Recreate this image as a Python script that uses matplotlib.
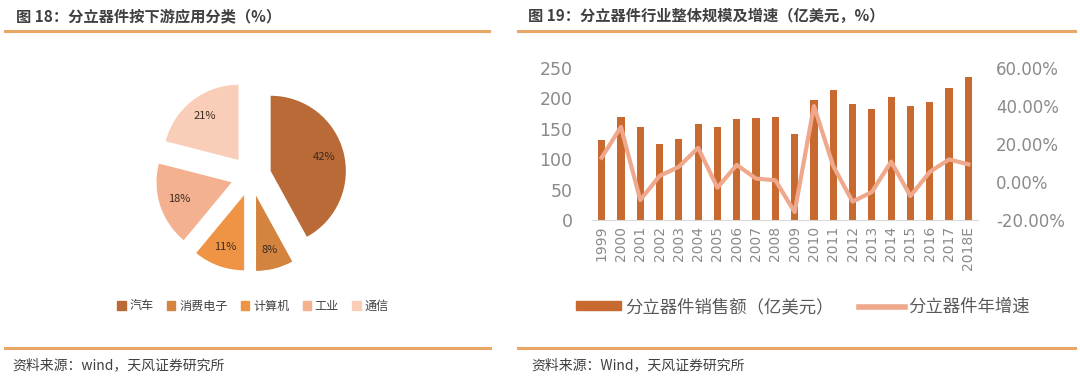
import matplotlib
matplotlib.use("Agg")
import matplotlib.pyplot as plt
from matplotlib.patches import Patch
from matplotlib.lines import Line2D
from matplotlib.ticker import FuncFormatter

plt.rcParams['font.family'] = ['Noto Sans CJK SC', 'DejaVu Sans']

# left: downstream application share
pie_labels = ["汽车", "消费电子", "计算机", "工业", "通信"]
pie_values = [42, 8, 11, 18, 21]
pie_colors = ["#B96A36", "#D4843F", "#EF9445", "#F4B18F", "#F9CDB7"]

# right: market size and growth
years = ["1999", "2000", "2001", "2002", "2003", "2004", "2005", "2006", "2007",
         "2008", "2009", "2010", "2011", "2012", "2013", "2014", "2015", "2016",
         "2017", "2018E"]
sales = [131, 169, 153, 125, 133, 158, 153, 166, 168, 170, 142, 198, 214, 191,
         182, 202, 187, 194, 217, 236]
growth = [12.8, 29.0, -9.5, 3.2, 8.0, 18.0, -3.0, 9.0, 1.8, 0.9, -15.8, 40.0,
          8.4, -10.3, -5.3, 10.7, -7.4, 5.3, 11.9, 9.3]

W, H = 1080, 376
BAR_C = "#C8692F"
LINE_C = "#F0A88C"
RULE_C = "#E8A766"
TXT_C = "#404040"
TICK_C = "#8a8a8a"
NUM_FONT = ["DejaVu Sans"]


def box(x0, y0, x1, y1):
    # pixel box (top-left origin) -> figure rect
    return [x0 / W, 1 - y1 / H, (x1 - x0) / W, (y1 - y0) / H]


fig = plt.figure(figsize=(W / 100, H / 100), dpi=100)

# headers, rules and sources
fig.text(16 / W, 1 - 16 / H, "图 18：分立器件按下游应用分类（%）", fontsize=11,
         fontweight="bold", color=TXT_C, va="center")
fig.text(528 / W, 1 - 16 / H, "图 19：分立器件行业整体规模及增速（亿美元，%）", fontsize=11,
         fontweight="bold", color=TXT_C, va="center")
for x0, x1, y in [(5, 489, 31), (518, 1075, 31), (5, 490, 348), (518, 1075, 348)]:
    fig.add_artist(Line2D([x0 / W, x1 / W], [1 - y / H] * 2, color=RULE_C, lw=2.2))
fig.text(12 / W, 1 - 365 / H, "资料来源：wind，天风证券研究所", fontsize=10,
         color=TXT_C, va="center")
fig.text(531 / W, 1 - 365 / H, "资料来源：Wind，天风证券研究所", fontsize=10,
         color=TXT_C, va="center")

# pie
ax1 = fig.add_axes(box(151, 76, 351, 276))
ax1.pie(pie_values, colors=pie_colors, startangle=90, counterclock=False,
        explode=[0.27] * 5, radius=1.0, autopct="%d%%", pctdistance=0.74,
        textprops=dict(fontsize=8, color="#3a2a20"))
ax1.set_xlim(-1.33, 1.33)
ax1.set_ylim(-1.33, 1.33)
ax1.set_aspect("equal")
ax1.axis("off")
fig.legend([Patch(color=c) for c in pie_colors], pie_labels, ncol=5,
           loc="center", bbox_to_anchor=(253 / W, 1 - 306 / H), frameon=False,
           fontsize=8.7, handlelength=0.7, handleheight=0.7, handletextpad=0.3,
           columnspacing=1.1, labelcolor=TXT_C)

# bars + growth line
ax2 = fig.add_axes(box(592, 68, 978, 220))
x = range(len(years))
ax2.bar(x, sales, width=0.37, color=BAR_C, zorder=2)
ax2.set_xlim(-0.5, len(years) - 0.5)
ax2.set_ylim(0, 250)
ax2.set_yticks(range(0, 251, 50))
ax2.set_xticks(list(x))
ax2.set_xticklabels(years, rotation=90, fontsize=10, color=TICK_C, family=NUM_FONT)
for t in ax2.get_yticklabels():
    t.set_family(NUM_FONT)
ax2.tick_params(axis="y", length=0, pad=14, labelsize=12.5, labelcolor=TICK_C)
ax2.tick_params(axis="x", length=0, pad=4)
for s in ["top", "right", "left"]:
    ax2.spines[s].set_visible(False)
ax2.spines["bottom"].set_color("#d9d9d9")

ax3 = ax2.twinx()
ax3.plot(list(x), growth, color=LINE_C, lw=3, zorder=3)
ax3.set_ylim(-20, 60)
ax3.set_yticks(range(-20, 61, 20))
ax3.yaxis.set_major_formatter(FuncFormatter(lambda v, p: f"{v:.2f}%"))
ax3.tick_params(axis="y", length=0, pad=13, labelsize=12, labelcolor=TICK_C)
for t in ax3.get_yticklabels():
    t.set_family(NUM_FONT)
for s in ["top", "right", "left", "bottom"]:
    ax3.spines[s].set_visible(False)

fig.legend([Patch(color=BAR_C), Line2D([], [], color=LINE_C, lw=4)],
           ["分立器件销售额（亿美元）", "分立器件年增速"], ncol=2, loc="center",
           bbox_to_anchor=(803 / W, 1 - 307 / H), frameon=False, fontsize=12.5,
           handlelength=2.6, handleheight=0.45, handletextpad=0.2,
           columnspacing=1.5, labelcolor="#595959")

fig.savefig("out.png", dpi=100)
